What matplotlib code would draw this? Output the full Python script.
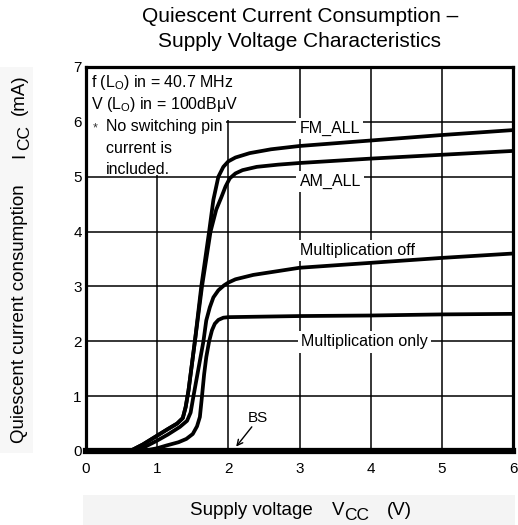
import matplotlib
matplotlib.use('Agg')
import matplotlib.pyplot as plt
from matplotlib.patches import Rectangle

plt.rcParams['font.family'] = ['Liberation Sans', 'DejaVu Sans']
plt.rcParams['mathtext.fontset'] = 'custom'
plt.rcParams['mathtext.rm'] = 'Liberation Sans'
plt.rcParams['mathtext.it'] = 'Liberation Sans:italic'

# ---------------- data ----------------
fm_x = [0.62, 0.80, 1.00, 1.15, 1.28, 1.36, 1.40, 1.44, 1.53, 1.62, 1.73, 1.79, 1.86, 1.93, 2.00, 2.10, 2.30, 2.60, 3.00, 4.00, 5.00, 6.00]
fm_y = [0.00, 0.12, 0.28, 0.40, 0.50, 0.60, 0.80, 1.10, 2.00, 3.00, 4.00, 4.58, 5.00, 5.18, 5.28, 5.35, 5.43, 5.50, 5.56, 5.66, 5.76, 5.85]

am_x = [0.62, 0.80, 1.00, 1.15, 1.28, 1.36, 1.40, 1.44, 1.53, 1.63, 1.75, 1.83, 1.90, 1.96, 2.02, 2.10, 2.20, 2.40, 2.70, 3.00, 4.00, 5.00, 6.00]
am_y = [0.00, 0.12, 0.28, 0.40, 0.50, 0.60, 0.80, 1.10, 2.00, 3.00, 4.00, 4.40, 4.62, 4.82, 4.97, 5.06, 5.12, 5.18, 5.22, 5.25, 5.33, 5.40, 5.47]

moff_x = [0.71, 0.85, 1.00, 1.15, 1.32, 1.42, 1.47, 1.51, 1.58, 1.65, 1.69, 1.74, 1.79, 1.86, 1.94, 2.00, 2.10, 2.35, 2.70, 3.00, 4.00, 5.00, 6.00]
moff_y = [0.00, 0.09, 0.19, 0.30, 0.44, 0.55, 0.70, 1.00, 1.50, 2.00, 2.38, 2.62, 2.80, 2.93, 3.02, 3.07, 3.13, 3.21, 3.28, 3.34, 3.43, 3.52, 3.60]

monly_x = [0.80, 1.00, 1.13, 1.30, 1.41, 1.50, 1.56, 1.60, 1.63, 1.66, 1.69, 1.73, 1.77, 1.81, 1.86, 1.93, 2.00, 2.50, 3.00, 4.00, 5.00, 6.00]
monly_y = [0.00, 0.05, 0.10, 0.16, 0.22, 0.31, 0.45, 0.62, 1.00, 1.40, 1.71, 2.00, 2.20, 2.32, 2.39, 2.43, 2.44, 2.45, 2.46, 2.47, 2.49, 2.50]

bs_x = [0.0, 6.0]
bs_y = [0.0, 0.0]

x_ticks = [0, 1, 2, 3, 4, 5, 6]
y_ticks = [0, 1, 2, 3, 4, 5, 6, 7]

W, H = 518, 525


def fx(p):
    return p / W


def fy(p):
    return 1 - p / H


fig = plt.figure(figsize=(W / 100, H / 100), dpi=100)
fig.patch.set_facecolor('white')

# light background bands behind the axis titles
fig.patches.append(Rectangle((fx(83), 0), fx(515) - fx(83), 30 / H, transform=fig.transFigure,
                             facecolor='#f4f4f4', edgecolor='none', zorder=0))
fig.patches.append(Rectangle((0, fy(453)), fx(33), (453 - 67) / H, transform=fig.transFigure,
                             facecolor='#f7f7f7', edgecolor='none', zorder=0))

ax = fig.add_axes([fx(86), fy(451), fx(513) - fx(86), fy(67) - fy(451)])
ax.set_xlim(0, 6)
ax.set_ylim(0, 7)
ax.set_xticks(x_ticks)
ax.set_yticks(y_ticks)
ax.tick_params(axis='both', length=0, labelsize=11, colors='black')
ax.tick_params(axis='x', pad=8)
ax.tick_params(axis='y', pad=3)
ax.set_axisbelow(True)
ax.grid(True, color='black', lw=1.1)
for s in ax.spines.values():
    s.set_linewidth(2.3)
    s.set_color('black')
    s.set_zorder(6)

# white area for the note (hides gridlines)
ax.add_patch(Rectangle((0, 5.03), 1.97, 1.97, facecolor='white', edgecolor='none', zorder=1))
ax.add_patch(Rectangle((0, 6.03), 2.03, 0.97, facecolor='white', edgecolor='none', zorder=1))

lw = 2.7
for xs, ys in [(fm_x, fm_y), (am_x, am_y), (moff_x, moff_y), (monly_x, monly_y)]:
    ax.plot(xs, ys, color='black', lw=lw, solid_capstyle='butt', solid_joinstyle='round', zorder=4)
ax.plot(bs_x, bs_y, color='black', lw=4.5, clip_on=False, zorder=5)

lab_kw = dict(fontsize=11.5, ha='left', va='center', zorder=3,
              bbox=dict(boxstyle='square,pad=0.2', facecolor='white', edgecolor='none'))
ax.text(3.0, 5.88, 'FM_ALL', **lab_kw)
ax.text(3.0, 4.91, 'AM_ALL', **lab_kw)
ax.text(3.0, 3.66, 'Multiplication off', **lab_kw)
ax.text(3.02, 1.99, 'Multiplication only', **lab_kw)

# note
note_kw = dict(fontsize=11.5, ha='left', va='baseline', zorder=3)
ax.text(0.07, 6.64, r'f (L$_{\mathregular{O}}$) in = 40.7 MHz', **note_kw)
ax.text(0.07, 6.23, 'V (L$_{\\mathregular{O}}$) in = 100dB\u03bcV', **note_kw)
ax.text(0.10, 5.83, '*', fontsize=9, ha='left', va='baseline', zorder=3, color='#333333')
ax.text(0.28, 5.83, 'No switching pin', **note_kw)
ax.text(0.28, 5.44, 'current is', **note_kw)
ax.text(0.28, 5.05, 'included.', **note_kw)

# BS annotation
ax.text(2.41, 0.61, 'BS', fontsize=11, ha='center', va='center', zorder=3)
ax.annotate('', xy=(2.11, 0.08), xytext=(2.33, 0.44),
            arrowprops=dict(arrowstyle='->', color='black', lw=1.0, shrinkA=0, shrinkB=0), zorder=3)

# title
fig.text(fx(300), fy(22), 'Quiescent Current Consumption \u2013', fontsize=15, ha='center', va='baseline')
fig.text(fx(300), fy(47), 'Supply Voltage Characteristics', fontsize=15, ha='center', va='baseline')

# x label
fig.text(fx(190), fy(515), 'Supply voltage', fontsize=13.5, ha='left', va='baseline')
fig.text(fx(332), fy(515), 'V', fontsize=13.5, ha='left', va='baseline')
fig.text(fx(344), fy(520.5), 'CC', fontsize=12.5, ha='left', va='baseline')
fig.text(fx(387), fy(515), '(V)', fontsize=13.5, ha='left', va='baseline')

# y label (rotated)
yk = dict(rotation=90, rotation_mode='anchor', ha='left', va='baseline')
fig.text(fx(24), fy(443), 'Quiescent current consumption', fontsize=13.5, **yk)
fig.text(fx(24), fy(158), 'I', fontsize=13.5, **yk)
fig.text(fx(29.5), fy(150), 'CC', fontsize=12.5, **yk)
fig.text(fx(24), fy(115), '(mA)', fontsize=13.5, **yk)

fig.savefig('out.png', dpi=100)
